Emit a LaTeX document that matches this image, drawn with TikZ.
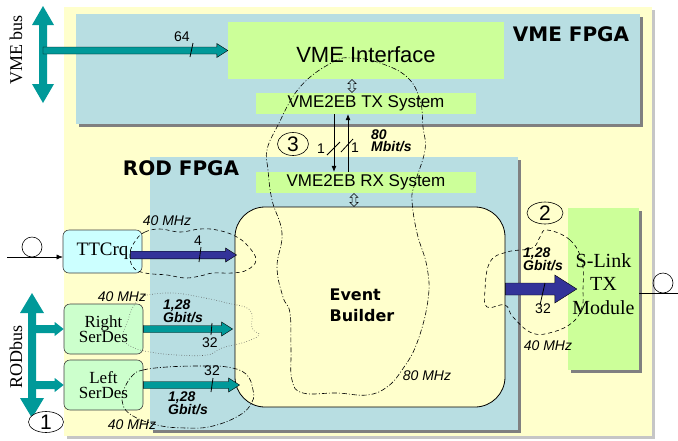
\documentclass[tikz,border=0pt]{standalone}
\usepackage{fontspec}
\setmainfont{Liberation Sans}
\newfontfamily\timesfont{Liberation Serif}
\newfontfamily\comicfont{DejaVu Sans}
\usetikzlibrary{arrows.meta,positioning,calc,shadows,shapes.geometric}

\definecolor{panelyellow}{HTML}{FFFFCC}
\definecolor{fpgablue}{RGB}{184,222,226}
\definecolor{lime}{HTML}{CCFF99}
\definecolor{ttcblue}{HTML}{CCFFFF}
\definecolor{serdesgreen}{HTML}{CCFFCC}
\definecolor{busteal}{HTML}{009999}
\definecolor{linknavy}{HTML}{333399}

\begin{document}
\begin{tikzpicture}[x=1pt, y=-1pt,
  shadowed/.style={drop shadow={shadow xshift=2.5pt, shadow yshift=-2.5pt, opacity=1, fill=#1}},
  fpga/.style={fill=fpgablue, inner sep=0pt, shadowed=gray},
  blk/.style={fill=lime, inner sep=0pt, font=\fontsize{17}{17}\selectfont},
  unit/.style={draw=black!75, line width=0.6pt, rounded corners=6pt, inner sep=0pt, align=center,
    minimum width=79pt, font=\timesfont\fontsize{17}{15.5}\selectfont},
  title/.style={font=\comicfont\bfseries\fontsize{20}{20}\selectfont, inner sep=0pt},
  lab/.style={font=\itshape\fontsize{14}{14}\selectfont, inner sep=0pt},
  rate/.style={font=\bfseries\itshape\fontsize{14}{12}\selectfont, align=left, anchor=west, inner sep=0pt},
  num/.style={font=\fontsize{14}{14}\selectfont, inner sep=0pt},
  slash/.style={line width=0.8pt},
  zone/.style={ellipse, draw, line width=0.6pt, inner sep=0pt, minimum width=34pt, minimum height=23pt,
    font=\fontsize{21}{21}\selectfont},
  fiber/.style={circle, draw, line width=0.6pt, inner sep=0pt, minimum size=20pt},
  blockarr/.style n args={3}{to path={let \p1=(\tikztostart), \p2=(\tikztotarget) in
    (\x1,\y1+#1) -- (\x2-#3,\y1+#1) -- (\x2-#3,\y1+#2) -- (\x2,\y1)
    -- (\x2-#3,\y1-#2) -- (\x2-#3,\y1-#1) -- (\x1,\y1-#1) -- cycle}},
  tealarr/.style={blockarr={3.5pt}{7pt}{11pt}, fill=busteal, draw=black, line width=0.4pt},
  navyarr/.style={fill=linknavy, draw=black, line width=0.4pt},
  branch/.style={blockarr={4pt}{7pt}{9pt}, fill=busteal},
  thinarr/.style={-{Latex[length=6pt,width=5pt]}, line width=0.6pt},
  clk/.style={line width=0.6pt},
  updown/.pic={\draw[line width=0.5pt] (0,-6.5) -- (4,-2.5) -- (1.8,-2.5) -- (1.8,2.5) -- (4,2.5)
    -- (0,6.5) -- (-4,2.5) -- (-1.8,2.5) -- (-1.8,-2.5) -- (-4,-2.5) -- cycle;}
]
\useasboundingbox (0,0) rectangle (678,440);

% board and the two FPGAs
\fill[panelyellow, shadowed=gray!45] (64,7) rectangle (652,436);
\node[fpga, minimum width=564pt, minimum height=110pt] (vmefpga) at (358,69) {};
\node[fpga, minimum width=368pt, minimum height=273pt] (rodfpga) at (334,293.5) {};
\node[title] (vmetitle) at (571,34) {VME FPGA};
\node[title] (rodtitle) at (181,168) {ROD FPGA};

% VME side blocks
\node[blk, minimum width=276pt, minimum height=57pt,
  label={[font=\fontsize{22}{22}\selectfont, yshift=-4pt]center:VME Interface}] (vmeif) at (366,50.5) {};
\node[blk, minimum width=220pt, minimum height=21pt] (tx) at (366,103.5) {VME2EB TX System};
\node[blk, minimum width=220pt, minimum height=21pt] (rx) at (366,182.5) {VME2EB RX System};

% event builder
\node[draw, line width=0.8pt, fill=panelyellow, rounded corners=30pt,
  minimum width=270pt, minimum height=200pt] (eb) at (370,307) {};
\node[font=\comicfont\bfseries\fontsize{16}{21}\selectfont, align=left] (ebtext) at (362,305) {Event\\Builder};
\pic at ($(vmeif.south)!0.5!(tx.north)+(-14,0)$) {updown};
\pic at ($(rx.south)!0.5!(eb.north)+(-14,0)$) {updown};

% front-end units
\node[unit, fill=ttcblue, minimum height=43pt, font=\timesfont\fontsize{19}{19}\selectfont] (ttc) at (102.5,251.5) {TTCrq};
\node[unit, fill=serdesgreen, minimum height=50pt] (rserdes) at (103.5,329) {Right\\SerDes};
\node[unit, fill=serdesgreen, minimum height=50pt] (lserdes) at (103.5,385) {Left\\SerDes};
\node[fill=lime, minimum width=71pt, minimum height=162pt, shadowed=gray,
  label={[font=\timesfont\fontsize{20}{23.5}\selectfont, align=center, yshift=5pt]center:S-Link\\TX\\Module}] (slink) at (603.5,289) {};

% buses
\fill[busteal] (43,6) -- (54,25) -- (47,25) -- (47,84) -- (54,84) -- (43,103) -- (32,84) -- (39,84) -- (39,25) -- (32,25) -- cycle;
\fill[busteal] (32,293) -- (44,313) -- (36,313) -- (36,398) -- (44,398) -- (32,418) -- (20,398) -- (28,398) -- (28,313) -- (20,313) -- cycle;
\coordinate (vmebus) at (43,50.5);
\coordinate (rodbus) at (32,355);
\node[rotate=90, font=\timesfont\fontsize{18}{18}\selectfont] (vmebuslab) at (16,50) {VME bus};
\node[rotate=90, font=\timesfont\fontsize{18}{18}\selectfont] (rodbuslab) at (16,357) {RODbus};
\path[branch] (rodbus |- rserdes.west) to (rserdes.west);
\path[branch] (rodbus |- lserdes.west) to (lserdes.west);
\draw[tealarr] (vmebus) to (vmeif.west);

% clock domains
\draw[clk, dash pattern=on 4pt off 3pt] plot[smooth cycle, tension=0.7] coordinates {(136,240) (145,232) (160,229) (180,232) (200,229) (217,230) (235,236) (248,246) (256,260) (247,270) (232,273) (213,273) (200,276) (185,278) (167,275) (145,273) (133,267) (130,253)};
\draw[clk, gray!70!black, dotted] plot[smooth cycle, tension=0.7] coordinates {(140,298) (147,295) (173,293) (200,297) (227,303) (250,310) (252,328) (259,335) (245,342) (222,348) (207,355) (177,355) (150,352) (132,347) (123,337) (128,320) (133,307)};
\draw[clk, dash pattern=on 5pt off 2pt on 1pt off 2pt] plot[smooth cycle, tension=0.7] coordinates {(133,375) (143,370) (167,367) (200,366) (227,367) (246,374) (253,390) (252,402) (240,415) (213,426) (187,428) (157,425) (130,414) (122,400) (125,387)};
\draw[clk, dash pattern=on 5pt off 2pt on 1pt off 2pt] plot[smooth cycle, tension=0.7] coordinates {(333,62) (353,58) (380,63) (407,77) (420,100) (423,127) (425,150) (415,183) (412,200) (417,233) (427,267) (428,300) (417,343) (402,370) (387,387) (367,395) (337,393) (303,393) (292,380) (291,350) (290,313) (283,297) (277,267) (282,233) (272,200) (268,170) (267,150) (277,127) (300,87)};
\draw[clk, dash pattern=on 4pt off 3pt] plot[smooth cycle, tension=0.7] coordinates {(547,230) (570,240) (582,262) (583,290) (582,307) (573,322) (553,332) (532,333) (513,317) (505,305) (487,307) (485,290) (490,262) (507,252) (532,248) (540,237)};

% data paths
\coordinate (ttcfrom) at ($(ttc.east)+(-12,3.5)$);
\draw[blockarr={3.8pt}{7pt}{11pt}, navyarr] (ttcfrom) to ($(ttcfrom -| eb.west)+(2,0)$);
\draw[tealarr] (rserdes.east) to ($(rserdes.east -| eb.west)+(-2,0)$);
\draw[tealarr] (lserdes.east) to ($(lserdes.east -| eb.west)+(5,0)$);
\draw[blockarr={6pt}{14pt}{22pt}, navyarr] (eb.east |- slink.west) to ($(slink.west)+(9,0)$);
\draw[thinarr] ($(tx.south)+(-32,0)$) -- ($(rx.north)+(-32,0)$);
\draw[thinarr] ($(rx.north)+(-18,0)$) -- ($(tx.south)+(-18,0)$);

% fibres
\coordinate (ttcin) at (7,257);
\node[fiber] (fibin) at (32,247) {};
\draw[thinarr, line width=0.5pt] (ttcin) -- (ttcin -| ttc.west);
\coordinate (slinkout) at (678,293);
\node[fiber] (fibout) at (663,283) {};
\draw[line width=0.5pt] (slink.east |- slinkout) -- (slinkout);

% bus widths
\draw[slash] (190,57) -- (193,43);
\node[num] (w64) at (182,37) {64};
\draw[slash] (199,262) -- (201,247);
\node[num] (w4) at (198,241) {4};
\draw[slash] (211,335) -- (212,323);
\node[num] (w32r) at (210,343) {32};
\draw[slash] (211,392) -- (213,378);
\node[num] (w32l) at (212,371) {32};
\draw[slash] (540,305) -- (545,283);
\node[num] (w32s) at (543,309) {32};
\draw[slash] (327,155) -- (340,142);
\draw[slash] (341,152) -- (353,139);
\node[num] (w1a) at (321,149) {1};
\node[num] (w1b) at (355,148) {1};

% rates and clocks
\node[rate] (rate80) at (371,141) {80\\Mbit/s};
\node[rate] (rater) at (163,311) {1,28\\Gbit/s};
\node[rate] (ratel) at (168,403) {1,28\\Gbit/s};
\node[rate] (rates) at (523,259.5) {1,28\\Gbit/s};
\node[lab] (clkttc) at (167,221) {40 MHz};
\node[lab] (clkr) at (122,297) {40 MHz};
\node[lab] (clkl) at (132,425) {40 MHz};
\node[lab] (clks) at (548,346) {40 MHz};
\node[lab] (clkeb) at (427,376) {80 MHz};

% numbered zones
\node[zone, fill=white, minimum width=35pt, minimum height=21pt] (z1) at (46,422) {1};
\node[zone, minimum width=36pt, minimum height=22pt] (z2) at (545,213) {2};
\node[zone, minimum width=31pt] (z3) at (293,144) {3};

\end{tikzpicture}
\end{document}
